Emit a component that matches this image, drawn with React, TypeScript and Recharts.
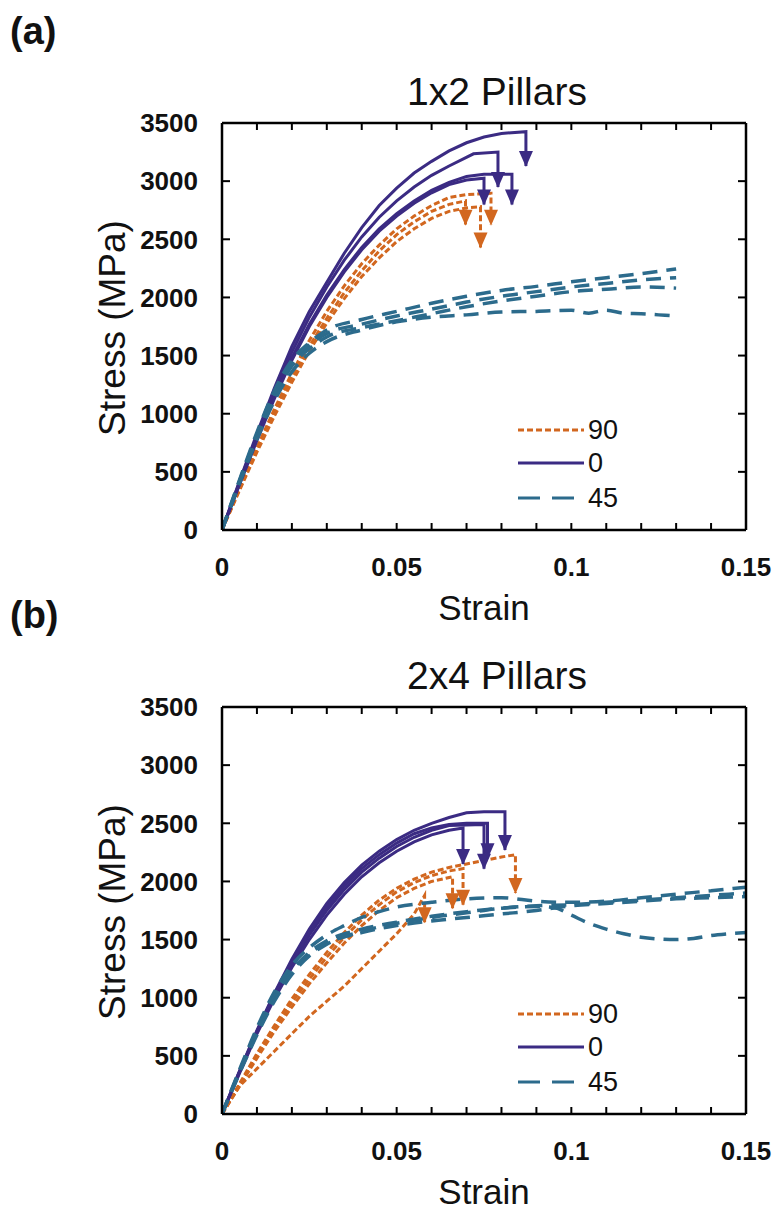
import { Line, LineChart, XAxis, YAxis } from "recharts";

type Pt = [number, number];

// panel (a) 1x2 pillars: [strain, stress MPa]
const a0_1: Pt[] = [[0, 0], [0.005, 420], [0.01, 830], [0.015, 1220], [0.02, 1580], [0.025, 1880], [0.03, 2130], [0.035, 2380], [0.04, 2600], [0.045, 2790], [0.05, 2940], [0.055, 3070], [0.06, 3170], [0.065, 3260], [0.07, 3330], [0.075, 3380], [0.08, 3410], [0.087, 3425], [0.087, 3130]];
const a0_2: Pt[] = [[0, 0], [0.005, 410], [0.01, 810], [0.015, 1190], [0.02, 1530], [0.025, 1830], [0.03, 2090], [0.035, 2320], [0.04, 2520], [0.045, 2690], [0.05, 2830], [0.055, 2950], [0.06, 3050], [0.065, 3130], [0.072, 3235], [0.079, 3250], [0.079, 2950]];
const a0_3: Pt[] = [[0, 0], [0.005, 400], [0.01, 790], [0.015, 1150], [0.02, 1480], [0.025, 1770], [0.03, 2020], [0.035, 2240], [0.04, 2430], [0.045, 2590], [0.05, 2720], [0.055, 2830], [0.06, 2920], [0.065, 2990], [0.07, 3040], [0.075, 3060], [0.083, 3060], [0.083, 2800]];
const a0_4: Pt[] = [[0, 0], [0.005, 390], [0.01, 770], [0.015, 1130], [0.02, 1460], [0.025, 1750], [0.03, 2000], [0.035, 2220], [0.04, 2410], [0.045, 2570], [0.05, 2700], [0.055, 2810], [0.06, 2900], [0.065, 2970], [0.07, 3010], [0.075, 3025], [0.075, 2800]];

const a90_1: Pt[] = [[0, 0], [0.005, 360], [0.01, 710], [0.015, 1040], [0.02, 1350], [0.025, 1630], [0.03, 1880], [0.035, 2100], [0.04, 2290], [0.045, 2450], [0.05, 2590], [0.055, 2700], [0.06, 2790], [0.065, 2860], [0.07, 2885], [0.077, 2895], [0.077, 2625]];
const a90_2: Pt[] = [[0, 0], [0.005, 350], [0.01, 690], [0.015, 1010], [0.02, 1310], [0.025, 1580], [0.03, 1820], [0.035, 2040], [0.04, 2230], [0.045, 2400], [0.05, 2540], [0.055, 2650], [0.06, 2740], [0.065, 2800], [0.0697, 2830], [0.0697, 2625]];
const a90_3: Pt[] = [[0, 0], [0.005, 340], [0.01, 670], [0.015, 980], [0.02, 1270], [0.025, 1540], [0.03, 1780], [0.035, 1990], [0.04, 2180], [0.045, 2340], [0.05, 2480], [0.055, 2590], [0.06, 2680], [0.065, 2740], [0.07, 2770], [0.074, 2780], [0.074, 2430]];

const a45_1: Pt[] = [[0, 0], [0.005, 430], [0.01, 840], [0.015, 1200], [0.02, 1460], [0.025, 1610], [0.03, 1720], [0.04, 1810], [0.05, 1880], [0.06, 1950], [0.07, 2010], [0.08, 2060], [0.09, 2095], [0.1, 2135], [0.11, 2170], [0.12, 2205], [0.13, 2245]];
const a45_2: Pt[] = [[0, 0], [0.005, 420], [0.01, 820], [0.015, 1180], [0.02, 1440], [0.025, 1590], [0.03, 1690], [0.04, 1770], [0.05, 1840], [0.06, 1900], [0.07, 1960], [0.08, 2010], [0.09, 2050], [0.1, 2090], [0.11, 2120], [0.12, 2150], [0.13, 2170]];
const a45_3: Pt[] = [[0, 0], [0.005, 410], [0.01, 800], [0.015, 1150], [0.02, 1410], [0.025, 1560], [0.03, 1660], [0.04, 1740], [0.05, 1800], [0.06, 1860], [0.07, 1920], [0.08, 1970], [0.09, 2010], [0.1, 2050], [0.11, 2070], [0.12, 2090], [0.13, 2080]];
const a45_4: Pt[] = [[0, 0], [0.005, 400], [0.01, 780], [0.015, 1110], [0.02, 1360], [0.025, 1520], [0.03, 1620], [0.04, 1720], [0.05, 1790], [0.06, 1830], [0.07, 1850], [0.08, 1875], [0.09, 1880], [0.1, 1890], [0.105, 1865], [0.11, 1890], [0.115, 1865], [0.12, 1860], [0.125, 1850], [0.13, 1840]];

// panel (b) 2x4 pillars
const b0_1: Pt[] = [[0, 0], [0.005, 370], [0.01, 720], [0.015, 1040], [0.02, 1330], [0.025, 1590], [0.03, 1810], [0.035, 1990], [0.04, 2140], [0.045, 2260], [0.05, 2360], [0.055, 2440], [0.06, 2500], [0.065, 2550], [0.07, 2590], [0.075, 2600], [0.081, 2600], [0.081, 2270]];
const b0_2: Pt[] = [[0, 0], [0.005, 360], [0.01, 700], [0.015, 1010], [0.02, 1290], [0.025, 1540], [0.03, 1750], [0.035, 1930], [0.04, 2080], [0.045, 2200], [0.05, 2300], [0.055, 2380], [0.06, 2440], [0.065, 2480], [0.075, 2490], [0.075, 2110]];
const b0_3: Pt[] = [[0, 0], [0.005, 350], [0.01, 690], [0.015, 990], [0.02, 1260], [0.025, 1500], [0.03, 1710], [0.035, 1890], [0.04, 2040], [0.045, 2160], [0.05, 2260], [0.055, 2340], [0.06, 2400], [0.065, 2440], [0.069, 2460], [0.069, 2150]];
const b0_4: Pt[] = [[0, 0], [0.005, 365], [0.01, 710], [0.015, 1030], [0.02, 1310], [0.025, 1560], [0.03, 1780], [0.035, 1960], [0.04, 2110], [0.045, 2230], [0.05, 2330], [0.055, 2410], [0.06, 2460], [0.065, 2490], [0.07, 2500], [0.076, 2500], [0.076, 2200]];

const b90_1: Pt[] = [[0, 0], [0.005, 260], [0.01, 520], [0.015, 760], [0.02, 990], [0.025, 1200], [0.03, 1390], [0.035, 1560], [0.04, 1710], [0.045, 1840], [0.05, 1940], [0.055, 2020], [0.06, 2080], [0.065, 2120], [0.07, 2150], [0.075, 2180], [0.08, 2210], [0.084, 2230], [0.084, 1900]];
const b90_2: Pt[] = [[0, 0], [0.005, 250], [0.01, 500], [0.015, 740], [0.02, 960], [0.025, 1160], [0.03, 1350], [0.035, 1520], [0.04, 1670], [0.045, 1800], [0.05, 1910], [0.055, 1990], [0.06, 2050], [0.065, 2090], [0.069, 2110], [0.069, 1800]];
const b90_3: Pt[] = [[0, 0], [0.005, 240], [0.01, 480], [0.015, 710], [0.02, 920], [0.025, 1120], [0.03, 1300], [0.035, 1470], [0.04, 1620], [0.045, 1750], [0.05, 1860], [0.055, 1940], [0.06, 2000], [0.066, 2040], [0.066, 1770]];
const b90_4: Pt[] = [[0, 0], [0.005, 240], [0.01, 390], [0.015, 540], [0.02, 690], [0.025, 840], [0.03, 970], [0.035, 1100], [0.04, 1250], [0.045, 1400], [0.05, 1550], [0.055, 1720], [0.058, 1880], [0.058, 1650]];

const b45_1: Pt[] = [[0, 0], [0.005, 380], [0.01, 740], [0.015, 1050], [0.02, 1280], [0.025, 1430], [0.03, 1540], [0.035, 1620], [0.04, 1690], [0.045, 1740], [0.05, 1780], [0.06, 1820], [0.07, 1850], [0.08, 1860], [0.09, 1830], [0.1, 1820], [0.11, 1830], [0.12, 1860], [0.13, 1890], [0.14, 1920], [0.15, 1950]];
const b45_2: Pt[] = [[0, 0], [0.005, 370], [0.01, 720], [0.015, 1020], [0.02, 1240], [0.025, 1380], [0.03, 1470], [0.04, 1560], [0.05, 1620], [0.06, 1660], [0.07, 1690], [0.08, 1720], [0.09, 1750], [0.1, 1790], [0.11, 1810], [0.12, 1830], [0.13, 1850], [0.14, 1860], [0.15, 1870]];
const b45_3: Pt[] = [[0, 0], [0.005, 360], [0.01, 700], [0.015, 1000], [0.02, 1230], [0.025, 1390], [0.03, 1490], [0.04, 1590], [0.05, 1650], [0.06, 1700], [0.07, 1740], [0.08, 1770], [0.09, 1785], [0.095, 1775], [0.1, 1710], [0.105, 1640], [0.11, 1590], [0.115, 1550], [0.12, 1520], [0.125, 1505], [0.13, 1500], [0.135, 1510], [0.14, 1535], [0.145, 1550], [0.15, 1560]];
const b45_4: Pt[] = [[0, 0], [0.005, 350], [0.01, 680], [0.015, 970], [0.02, 1200], [0.025, 1360], [0.03, 1460], [0.04, 1570], [0.05, 1640], [0.06, 1690], [0.07, 1730], [0.08, 1770], [0.09, 1790], [0.1, 1800], [0.11, 1820], [0.12, 1840], [0.13, 1860], [0.14, 1880], [0.15, 1900]];

const xTicks = [0, 0.01, 0.02, 0.03, 0.04, 0.05, 0.06, 0.07, 0.08, 0.09, 0.1, 0.11, 0.12, 0.13, 0.14, 0.15];
const yTicks = [0, 500, 1000, 1500, 2000, 2500, 3000, 3500];
const legendItems = ["90", "0", "45"];

const W = 775;
const H = 626;
const FONT = "'Liberation Sans', Arial, sans-serif";
const PURPLE = "#3b2b83";
const ORANGE = "#d2671f";
const BLUE = "#2c6b8c";

const fmtX = (v: number) => {
  const k = Math.round(v * 100);
  if (k === 0) return "0";
  if (k === 5) return "0.05";
  if (k === 10) return "0.1";
  if (k === 15) return "0.15";
  return "";
};

const toData = (pts: Pt[]) => pts.map(([x, y]) => ({ x, y }));

// arrowhead on the last point of a curve (the failure drop)
const arrowDot = (n: number, color: string) => (p: any) => {
  if (p.index !== n - 1) return <g key={`d${p.index}`} />;
  const { cx, cy } = p;
  return (
    <path
      key={`d${p.index}`}
      d={`M${cx - 7},${cy - 15} L${cx + 7},${cy - 15} L${cx},${cy + 1} Z`}
      fill={color}
      stroke="none"
    />
  );
};

const axisLine = { stroke: "#000", strokeWidth: 2.5 };
const tickLine = { stroke: "#000", strokeWidth: 2 };
const tickFont = { fill: "#111", fontSize: 26, fontWeight: 700, fontFamily: FONT };

interface PanelProps {
  tag: string;
  title: string;
  top: number;
  purple: Pt[][];
  orange: Pt[][];
  blue: Pt[][];
}

function Panel({ tag, title, top, purple, orange, blue }: PanelProps) {
  return (
    <div style={{ position: "absolute", left: 0, top, width: W, height: H }}>
      <LineChart width={W} height={H} margin={{ top: 103, right: 19, bottom: 0, left: 122 }}>
        <XAxis
          dataKey="x"
          type="number"
          domain={[0, 0.15]}
          allowDataOverflow
          ticks={xTicks}
          interval={0}
          height={96}
          tickSize={-7}
          tickMargin={35}
          tickFormatter={fmtX}
          tick={tickFont}
          axisLine={axisLine}
          tickLine={tickLine}
        />
        <XAxis
          xAxisId="top"
          orientation="top"
          dataKey="x"
          type="number"
          domain={[0, 0.15]}
          allowDataOverflow
          ticks={xTicks}
          interval={0}
          height={20}
          tickSize={-7}
          tickFormatter={() => ""}
          axisLine={axisLine}
          tickLine={tickLine}
        />
        <YAxis
          type="number"
          domain={[0, 3500]}
          allowDataOverflow
          ticks={yTicks}
          interval={0}
          width={100}
          tickSize={-8}
          tickMargin={32}
          tick={tickFont}
          axisLine={axisLine}
          tickLine={tickLine}
        />
        <YAxis
          yAxisId="r"
          orientation="right"
          type="number"
          domain={[0, 3500]}
          allowDataOverflow
          ticks={yTicks}
          interval={0}
          width={10}
          tickSize={-8}
          tickFormatter={() => ""}
          axisLine={axisLine}
          tickLine={tickLine}
        />
        {orange.map((c, i) => (
          <Line
            key={`o${i}`}
            data={toData(c)}
            dataKey="y"
            type="linear"
            stroke={ORANGE}
            strokeWidth={3}
            strokeDasharray="6 3"
            dot={arrowDot(c.length, ORANGE)}
            activeDot={false}
            isAnimationActive={false}
          />
        ))}
        {purple.map((c, i) => (
          <Line
            key={`p${i}`}
            data={toData(c)}
            dataKey="y"
            type="linear"
            stroke={PURPLE}
            strokeWidth={3}
            dot={arrowDot(c.length, PURPLE)}
            activeDot={false}
            isAnimationActive={false}
          />
        ))}
        {blue.map((c, i) => (
          <Line
            key={`b${i}`}
            data={toData(c)}
            dataKey="y"
            type="monotone"
            stroke={BLUE}
            strokeWidth={3.5}
            strokeDasharray="15 9"
            dot={false}
            activeDot={false}
            isAnimationActive={false}
          />
        ))}
      </LineChart>
      <svg
        width={W}
        height={H}
        style={{ position: "absolute", left: 0, top: 0, pointerEvents: "none" }}
        fontFamily={FONT}
      >
        <text x={10} y={44} fontSize={38} fontWeight={700} fill="#111">
          {tag}
        </text>
        <text x={497} y={105} fontSize={39} textAnchor="middle" fill="#111">
          {title}
        </text>
        <text x={484} y={620} fontSize={35} textAnchor="middle" fill="#111">
          Strain
        </text>
        <text
          transform="translate(125,328) rotate(-90)"
          fontSize={37}
          textAnchor="middle"
          fill="#111"
        >
          Stress (MPa)
        </text>
        {legendItems.map((lab, i) => {
          const y = [430, 463, 498][i];
          const color = [ORANGE, PURPLE, BLUE][i];
          const dash = ["6 3", undefined, "22 12"][i];
          return (
            <g key={lab}>
              <line x1={518} x2={584} y1={y} y2={y} stroke={color} strokeWidth={3} strokeDasharray={dash} />
              <text x={588} y={y + 9} fontSize={27} fill="#111">
                {lab}
              </text>
            </g>
          );
        })}
      </svg>
    </div>
  );
}

export default function App() {
  return (
    <div style={{ position: "absolute", left: 0, top: 0, width: W, height: 1210, background: "#fff", overflow: "hidden" }}>
      <Panel
        tag="(a)"
        title="1x2 Pillars"
        top={0}
        purple={[a0_1, a0_2, a0_3, a0_4]}
        orange={[a90_1, a90_2, a90_3]}
        blue={[a45_1, a45_2, a45_3, a45_4]}
      />
      <Panel
        tag="(b)"
        title="2x4 Pillars"
        top={584}
        purple={[b0_1, b0_2, b0_3, b0_4]}
        orange={[b90_1, b90_2, b90_3, b90_4]}
        blue={[b45_1, b45_2, b45_3, b45_4]}
      />
    </div>
  );
}
